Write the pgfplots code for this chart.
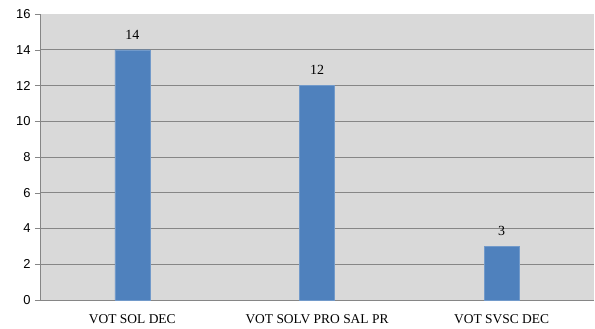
\documentclass[border=0pt]{standalone}
\usepackage{fontspec}
\setmainfont{Liberation Serif}
\setsansfont{Liberation Sans}
\usepackage{pgfplots}
\pgfplotsset{compat=1.18}
\definecolor{barblue}{HTML}{4F81BD}
\definecolor{bggray}{HTML}{D9D9D9}
\definecolor{gridgray}{HTML}{868686}
\begin{document}
\begin{tikzpicture}[x=1bp,y=1bp]
\begin{axis}[
  scale only axis,
  width=554bp, height=286bp,
  xmin=-0.5, xmax=2.5,
  ymin=0, ymax=16,
  ytick={0,2,...,14},
  extra y ticks={16},
  extra y tick style={grid=none},
  xtick={0,1,2},
  xticklabels={VOT SOL DEC, VOT SOLV PRO SAL PR, VOT SVSC DEC},
  major x tick style={draw=none},
  extra x ticks={-0.5,0.5,1.5},
  extra x tick labels={},
  extra x tick style={major tick length=5bp, tick style={draw=gridgray}, tick align=outside, grid=none},
  axis x line*=bottom, axis y line*=left,
  axis line style={draw=gridgray},
  ymajorgrids, grid style={draw=gridgray, line width=0.8pt},
  y tick style={draw=gridgray},
  tick align=outside, major tick length=5bp,
  axis background/.style={fill=bggray},
  /pgf/number format/assume math mode=true,
  y tick label style={font=\sffamily\fontsize{13}{15}\selectfont, xshift=-1bp},
  x tick label style={font=\fontsize{13.5}{15}\selectfont, yshift=-6bp},
  ybar, bar width=35bp,
  nodes near coords,
  nodes near coords style={font=\fontsize{14}{16}\selectfont, yshift=7bp},
  clip=false,
]
\addplot[fill=barblue, draw=barblue!80!white] coordinates {(0,14) (1,12) (2,3)};
\end{axis}
\path ([xshift=-40bp,yshift=-29bp]current axis.south west) rectangle ([xshift=1bp,yshift=14bp]current axis.north east);
\end{tikzpicture}
\end{document}
